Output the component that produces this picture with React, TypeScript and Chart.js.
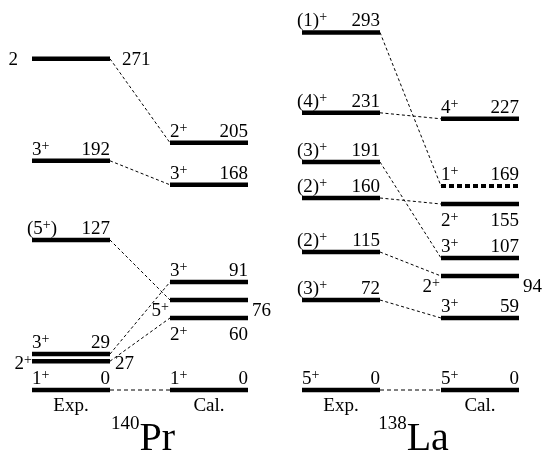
import React, { useEffect, useRef } from "react";
import { Chart, registerables } from "chart.js";
Chart.register(...registerables);

// ---------- data: 140Pr ----------
const prExpEnergies = [0, 27, 29, 127, 192, 271];
const prExpSpins = ["1+", "2+", "3+", "(5+)", "3+", "2"];
const prExpDrawn = [0, 24, 30, 125, 191, 276];
const prExpPlace = ["above", "sideB", "above", "above", "above", "sideA"];

const prCalEnergies = [0, 60, 76, 91, 168, 205];
const prCalSpins = ["1+", "2+", "5+", "3+", "3+", "2+"];
const prCalDrawn = [0, 60, 75, 90, 171, 206];
const prCalPlace = ["above", "below", "sideC", "above", "above", "above"];
const prCalDashed = [false, false, false, false, false, false];

const prLinks = [[0, 0], [1, 1], [2, 3], [3, 2], [4, 4], [5, 5]];

// ---------- data: 138La ----------
const laExpEnergies = [0, 72, 115, 160, 191, 231, 293];
const laExpSpins = ["5+", "(3)+", "(2)+", "(2)+", "(3)+", "(4)+", "(1)+"];
const laExpDrawn = [0, 75, 115, 160, 190, 231, 298];
const laExpPlace = ["above", "above", "above", "above", "above", "above", "above"];

const laCalEnergies = [0, 59, 94, 107, 155, 169, 227];
const laCalSpins = ["5+", "3+", "2+", "3+", "2+", "1+", "4+"];
const laCalDrawn = [0, 60, 95, 110, 155, 170, 226];
const laCalPlace = ["above", "above", "sideC", "above", "below", "above", "above"];
const laCalDashed = [false, false, false, false, false, true, false];

const laLinks = [[0, 0], [1, 1], [2, 2], [3, 4], [4, 3], [5, 6], [6, 5]];

const columnTitles = ["Exp.", "Cal."];
const nuclei = [
  { mass: "140", symbol: "Pr" },
  { mass: "138", symbol: "La" },
];

// ---------- layout ----------
const W = 544;
const H = 455;
const COLS = {
  prExp: [32, 110],
  prCal: [170, 248],
  laExp: [302, 380],
  laCal: [441, 519],
};
const FONT = "\"Liberation Serif\", serif";
const MAIN = 19;
const SUP = 14;
const PLACE: Record<string, { dy: number; spinGap: number; enGap: number }> = {
  sideA: { dy: 0, spinGap: 14, enGap: 12 },
  sideB: { dy: 1, spinGap: 0, enGap: 5 },
  sideC: { dy: 9, spinGap: 1, enGap: 4 },
};

type Level = { x0: number; x1: number; y: number; e: number; spin: string; place: string; dashed: boolean };

function buildLevels(cols: number[], energies: number[], spins: string[], drawn: number[], place: string[], dashed?: boolean[]): Level[] {
  return energies.map((e, i) => ({
    x0: cols[0],
    x1: cols[1],
    y: drawn[i],
    e,
    spin: spins[i],
    place: place[i],
    dashed: dashed ? dashed[i] : false,
  }));
}

const groups = [
  {
    exp: buildLevels(COLS.prExp, prExpEnergies, prExpSpins, prExpDrawn, prExpPlace),
    cal: buildLevels(COLS.prCal, prCalEnergies, prCalSpins, prCalDrawn, prCalPlace, prCalDashed),
    links: prLinks,
    nucleus: nuclei[0],
  },
  {
    exp: buildLevels(COLS.laExp, laExpEnergies, laExpSpins, laExpDrawn, laExpPlace),
    cal: buildLevels(COLS.laCal, laCalEnergies, laCalSpins, laCalDrawn, laCalPlace, laCalDashed),
    links: laLinks,
    nucleus: nuclei[1],
  },
];

function spinWidth(ctx: CanvasRenderingContext2D, s: string) {
  let w = 0;
  for (const ch of s) {
    ctx.font = `${ch === "+" ? SUP : MAIN}px ${FONT}`;
    w += ctx.measureText(ch).width;
  }
  return w;
}

function drawSpin(ctx: CanvasRenderingContext2D, s: string, x: number, baseline: number, align: "left" | "right") {
  let cx = align === "right" ? x - spinWidth(ctx, s) : x;
  ctx.textAlign = "left";
  ctx.textBaseline = "alphabetic";
  for (const ch of s) {
    const sup = ch === "+";
    ctx.font = `${sup ? SUP : MAIN}px ${FONT}`;
    ctx.fillText(ch, cx, sup ? baseline - 5 : baseline);
    cx += ctx.measureText(ch).width;
  }
}

const labelPlugin = {
  id: "levelLabels",
  beforeDraw(chart: any) {
    const ctx = chart.ctx;
    ctx.save();
    ctx.fillStyle = "#fff";
    ctx.fillRect(0, 0, chart.width, chart.height);
    ctx.restore();
  },
  afterDatasetsDraw(chart: any) {
    const ctx: CanvasRenderingContext2D = chart.ctx;
    const xs = chart.scales.x;
    const ys = chart.scales.y;
    ctx.save();
    ctx.fillStyle = "#000";
    for (const g of groups) {
      for (const lv of [...g.exp, ...g.cal]) {
        const px0 = xs.getPixelForValue(lv.x0);
        const px1 = xs.getPixelForValue(lv.x1);
        const py = ys.getPixelForValue(lv.y);
        const en = String(lv.e);
        if (lv.place === "above" || lv.place === "below") {
          const base = lv.place === "above" ? py - 6 : py + 21.5;
          const sx = lv.spin.startsWith("(") ? px0 - 5 : px0;
          drawSpin(ctx, lv.spin, sx, base, "left");
          ctx.font = `${MAIN}px ${FONT}`;
          ctx.textAlign = "right";
          ctx.textBaseline = "alphabetic";
          ctx.fillText(en, px1, base);
        } else {
          const p = PLACE[lv.place];
          const base = py + p.dy + 6.5;
          drawSpin(ctx, lv.spin, px0 - p.spinGap, base, "right");
          ctx.font = `${MAIN}px ${FONT}`;
          ctx.textAlign = "left";
          ctx.textBaseline = "alphabetic";
          ctx.fillText(en, px1 + p.enGap, base);
        }
      }
      const ground = ys.getPixelForValue(0);
      ctx.font = `${MAIN}px ${FONT}`;
      ctx.textAlign = "center";
      ctx.textBaseline = "alphabetic";
      const cE = (xs.getPixelForValue(g.exp[0].x0) + xs.getPixelForValue(g.exp[0].x1)) / 2;
      const cC = (xs.getPixelForValue(g.cal[0].x0) + xs.getPixelForValue(g.cal[0].x1)) / 2;
      ctx.fillText(columnTitles[0], cE, ground + 21);
      ctx.fillText(columnTitles[1], cC, ground + 21);
      const mid = (cE + cC) / 2 + 3;
      ctx.font = `19px ${FONT}`;
      const mw = ctx.measureText(g.nucleus.mass).width;
      ctx.font = `40px ${FONT}`;
      const sw = ctx.measureText(g.nucleus.symbol).width;
      const start = mid - (mw + sw) / 2;
      ctx.textAlign = "left";
      ctx.font = `19px ${FONT}`;
      ctx.fillText(g.nucleus.mass, start, ground + 39);
      ctx.font = `40px ${FONT}`;
      ctx.fillText(g.nucleus.symbol, start + mw, ground + 60);
    }
    ctx.restore();
  },
};

export default function App() {
  const ref = useRef<HTMLCanvasElement>(null);
  useEffect(() => {
    let chart: Chart | null = null;
    let cancelled = false;
    const build = () => {
      if (cancelled || !ref.current) return;
      const datasets: any[] = [];
      for (const g of groups) {
        for (const lv of [...g.exp, ...g.cal]) {
          datasets.push({
            data: [{ x: lv.x0, y: lv.y }, { x: lv.x1, y: lv.y }],
            borderColor: "#000",
            borderWidth: lv.dashed ? 4 : 4.5,
            borderDash: lv.dashed ? [5, 3] : [],
            borderCapStyle: "butt",
            pointRadius: 0,
            showLine: true,
            fill: false,
          });
        }
        for (const [ei, ci] of g.links) {
          const a = g.exp[ei];
          const b = g.cal[ci];
          datasets.push({
            data: [{ x: a.x1, y: a.y }, { x: b.x0, y: b.y }],
            borderColor: "#000",
            borderWidth: 1,
            borderDash: a.e === 0 ? [4, 3] : [3, 2.5],
            pointRadius: 0,
            showLine: true,
            fill: false,
          });
        }
      }
      const pxPerUnit = 1.2;
      const yMax = 390 / pxPerUnit;
      const yMin = yMax - H / pxPerUnit;
      chart = new Chart(ref.current, {
        type: "scatter",
        data: { datasets },
        options: {
          responsive: false,
          animation: false,
          events: [],
          layout: { padding: 0 },
          plugins: { legend: { display: false }, tooltip: { enabled: false } },
          scales: {
            x: { type: "linear", min: 0, max: W, display: false },
            y: { type: "linear", min: yMin, max: yMax, display: false },
          },
        },
        plugins: [labelPlugin],
      });
    };
    const fonts: any = (document as any).fonts;
    if (fonts && fonts.load) {
      Promise.all([fonts.load(`19px "Liberation Serif"`), fonts.load(`40px "Liberation Serif"`)])
        .then(build, build);
    } else build();
    return () => {
      cancelled = true;
      if (chart) chart.destroy();
    };
  }, []);
  return (
    <div style={{ position: "fixed", left: 0, top: 0, width: W, height: H, background: "#fff" }}>
      <canvas ref={ref} width={W} height={H} style={{ width: W, height: H, display: "block" }} />
    </div>
  );
}
